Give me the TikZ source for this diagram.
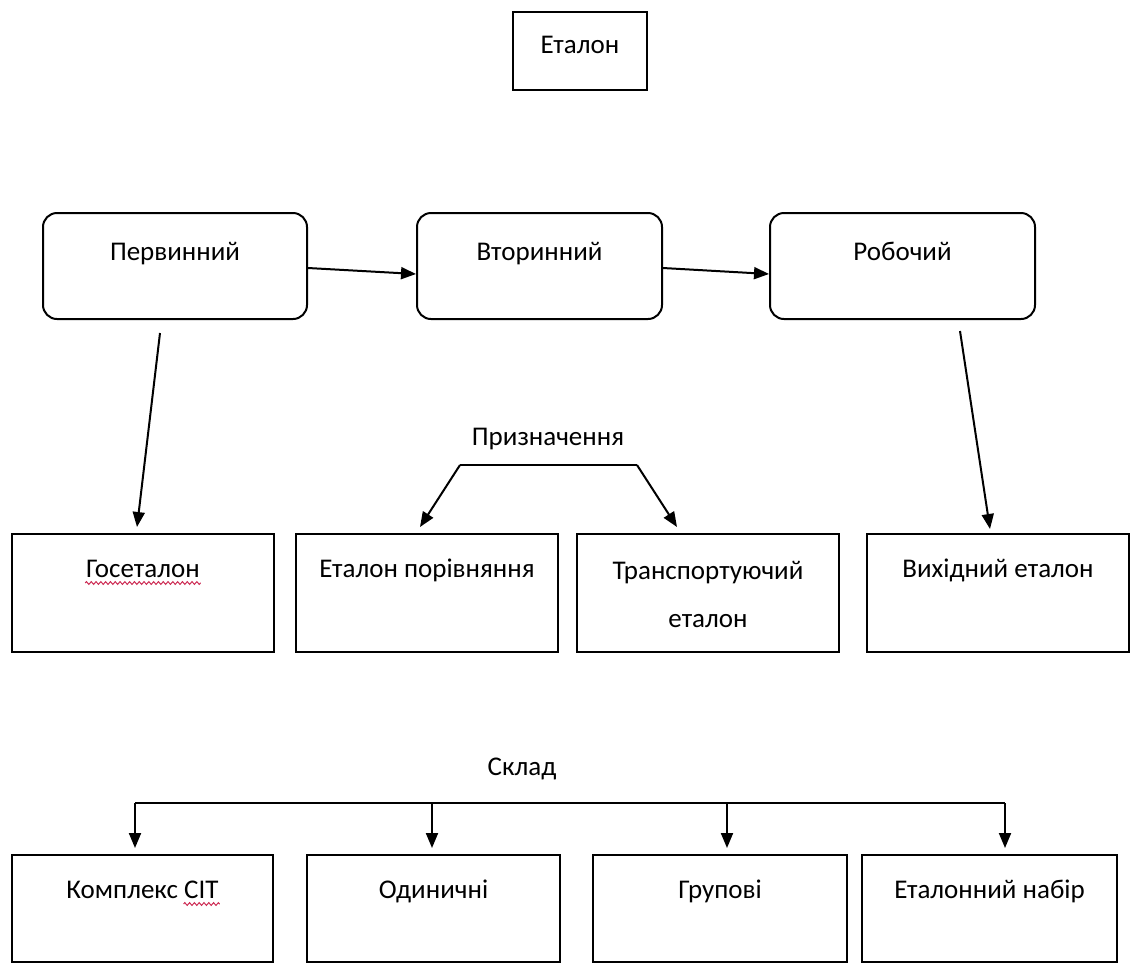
\documentclass[tikz,border=0pt]{standalone}
\usepackage{fontspec}
\setmainfont{Carlito}
\usepackage{tikz}
\usetikzlibrary{arrows.meta,decorations.pathmorphing}
\definecolor{wavered}{RGB}{205,45,85}

\tikzset{
  box/.style={draw, minimum width=#1, minimum height=\boxh, inner sep=0pt},
  rbox/.style={draw, rounded corners=7pt, minimum width=#1, minimum height=\rboxh, inner sep=0pt},
  txt/.style={anchor=base, inner sep=0pt, yshift=-#1},
  wave/.style={draw=wavered, line width=0.5pt, decorate, decoration={zigzag, amplitude=0.7pt, segment length=2.4pt}}
}

\begin{document}
\begin{tikzpicture}[x=0.5pt, y=-0.5pt, line width=1pt, font=\fontsize{13.5}{24}\selectfont, >={Triangle[length=7.5pt,width=6pt]}]
\def \boxh {59pt}
\def \rboxh {53pt}

\useasboundingbox (0,0) rectangle (1134,971);

\node[box=67pt, minimum height=39pt, label={[txt=21pt]north:Еталон}] at (580,51) (etalon) {};

\node[rbox=132pt, label={[txt=24pt]north:Первинний}] at (175,266) (prim) {};
\node[rbox=122.5pt, label={[txt=24pt]north:Вторинний}] at (539.5,266) (sec) {};
\node[rbox=132.5pt, label={[txt=24pt]north:Робочий}] at (902.5,266) (work) {};

\node[anchor=base] at (548,445) (purpose) {Призначення};

\node[box=131pt, label={[txt=22pt, name=gostext]north:Госеталон}] at (143,593) (gos) {};
\node[box=131pt, label={[txt=22pt]north:Еталон порівняння}] at (427,593) (compar) {};
\node[box=131pt, label={[txt=47pt, align=center]north:Транспортуючий\\еталон}] at (708,593) (trans) {};
\node[box=131pt, label={[txt=22pt]north:Вихідний еталон}] at (998,593) (outp) {};

\node[anchor=base] at (522,775) (compos) {Склад};

\node[box=130.5pt, minimum height=53.5pt, label={[txt=22pt, name=cplxtext]north:Комплекс СІТ}] at (142.5,908.5) (cplx) {};
\node[box=126.5pt, minimum height=53.5pt, label={[txt=22pt]north:Одиничні}] at (433.5,908.5) (single) {};
\node[box=127pt, minimum height=53.5pt, label={[txt=22pt]north:Групові}] at (720,908.5) (group) {};
\node[box=127.5pt, minimum height=53.5pt, label={[txt=22pt]north:Еталонний набір}] at (989.5,908.5) (kit) {};

\path[->] ([yshift=-1pt]prim.east) edge ([yshift=-4pt]sec.west);
\path[->] ([yshift=-1pt]sec.east) edge ([yshift=-4pt]work.west);
\path[->] ([xshift=-7.5pt, yshift=-6.5pt]prim.south) edge ([xshift=-3pt, yshift=3pt]gos.north);
\path[->] ([xshift=28.75pt, yshift=-5.5pt]work.south) edge ([xshift=-4pt, yshift=2pt]outp.north);

\coordinate (pl) at (460,465);
\coordinate (pr) at (637,465);
\draw (pl) -- (pr);
\path[->] (pl) edge ([xshift=-3.5pt, yshift=3pt]compar.north);
\path[->] (pr) edge ([xshift=-15.5pt, yshift=3pt]trans.north);

\coordinate (s1) at (135,803);
\coordinate (s2) at (432,803);
\coordinate (s3) at (727,803);
\coordinate (s4) at (1005,803);
\draw (s1) -- (s4);
\foreach \i/\n in {1/cplx, 2/single, 3/group, 4/kit}
  \path[->, shorten >=3pt] (s\i) edge (s\i |- \n.north);

\draw[wave] ([yshift=-3pt]gostext.base west) -- ([yshift=-3pt]gostext.base east);
\draw[wave] ([xshift=-18pt, yshift=-3pt]cplxtext.base east) -- ([yshift=-3pt]cplxtext.base east);

\end{tikzpicture}
\end{document}
